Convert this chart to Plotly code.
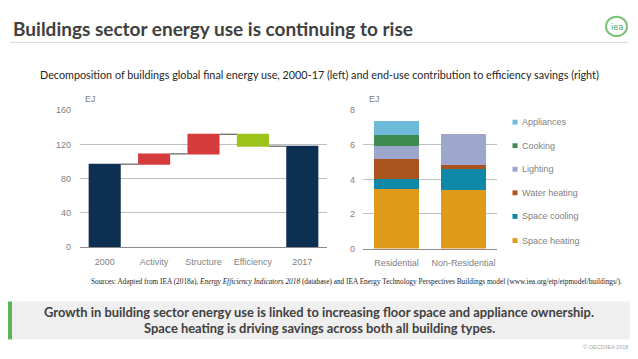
import plotly.graph_objects as go

W, H = 638, 359

def px(x):
    return x / W

def py(y):
    return 1 - y / H

# ---- Data ----
wf_categories = ["2000", "Activity", "Structure", "Efficiency", "2017"]
wf_values = [97, 12, 23, -14, 118]
wf_measures = ["absolute", "relative", "relative", "relative", "total"]
wf_ticks = [0, 40, 80, 120, 160]

bt_categories = ["Residential", "Non-Residential"]
space_heating = [3.42, 3.36]
space_cooling = [0.62, 1.22]
water_heating = [1.12, 0.28]
lighting = [0.78, 1.74]
cooking = [0.62, 0.0]
appliances = [0.80, 0.0]
bt_ticks = [0, 2, 4, 6, 8]

series_names = ["Space heating", "Space cooling", "Water heating", "Lighting", "Cooking", "Appliances"]
series_values = [space_heating, space_cooling, water_heating, lighting, cooking, appliances]
series_colors = ["#E09A1A", "#0E88A6", "#A9531F", "#9DA6CC", "#3F8A50", "#6DBAD9"]

NAVY = "#0D2F52"
RED = "#D63B3B"
GREEN = "#9BC31A"
AXIS_FONT = "Liberation Sans Narrow, Arial Narrow, Liberation Sans, Arial"
TICK_COLOR = "#7F7F7F"
GRID = "#BFBFBF"
TICK_SIZE = 9

fig = go.Figure()

fig.add_trace(go.Waterfall(
    x=wf_categories, y=wf_values, measure=wf_measures,
    base=0,
    increasing=dict(marker=dict(color=RED)),
    decreasing=dict(marker=dict(color=GREEN)),
    totals=dict(marker=dict(color=NAVY)),
    connector=dict(line=dict(color="#404040", width=1), mode="between"),
    width=0.65,
    xaxis="x", yaxis="y", showlegend=False, hoverinfo="skip",
))

for name, vals, col in zip(series_names, series_values, series_colors):
    fig.add_trace(go.Bar(
        x=bt_categories, y=vals, name=name, marker=dict(color=col, line=dict(width=0)),
        xaxis="x2", yaxis="y2", showlegend=False, width=0.66, hoverinfo="skip",
    ))

axis_common = dict(
    tickfont=dict(family=AXIS_FONT, size=TICK_SIZE, color=TICK_COLOR),
    ticks="", zeroline=False,
)

fig.update_layout(
    width=W, height=H,
    margin=dict(l=0, r=0, t=0, b=0),
    paper_bgcolor="white", plot_bgcolor="rgba(0,0,0,0)",
    barmode="stack",
    xaxis=dict(domain=[px(80), px(327)], showgrid=False, ticklabelstandoff=6,
               showline=True, linecolor="#8C8C8C", linewidth=1, **axis_common),
    yaxis=dict(domain=[py(249), py(108.3)], range=[0, 160], tickvals=wf_ticks,
               showgrid=True, gridcolor=GRID, gridwidth=1, showline=False,
               ticklabelstandoff=8, **axis_common),
    xaxis2=dict(domain=[px(363), px(497)], showgrid=False, ticklabelstandoff=6,
                showline=True, linecolor="#8C8C8C", linewidth=1, anchor="y2", **axis_common),
    yaxis2=dict(domain=[py(250.5), py(108.3)], range=[0, 8], tickvals=bt_ticks,
                showgrid=True, gridcolor=GRID, gridwidth=1, showline=False, anchor="x2",
                ticklabelstandoff=7, **axis_common),
    showlegend=False,
)

annotations = []
shapes = []

# EJ labels
for xx in (83, 367):
    annotations.append(dict(x=px(xx), y=py(97), xref="paper", yref="paper", text="EJ",
                            showarrow=False, xanchor="left", yanchor="middle",
                            font=dict(family=AXIS_FONT, size=TICK_SIZE, color=TICK_COLOR)))

# Legend (manual, top = Appliances)
leg_y = [242.3, 217.5, 193.2, 169.0, 144.7, 120.5]
for name, col, yy in zip(series_names, series_colors, leg_y):
    shapes.append(dict(type="rect", xref="paper", yref="paper",
                       x0=px(512.5), x1=px(517.5), y0=py(yy + 2.5), y1=py(yy - 2.5),
                       fillcolor=col, line=dict(width=0)))
    annotations.append(dict(x=px(519.5), y=py(yy), xref="paper", yref="paper", text=name,
                            showarrow=False, xanchor="left", yanchor="middle",
                            font=dict(family=AXIS_FONT, size=TICK_SIZE, color=TICK_COLOR)))

# Title
annotations.append(dict(x=px(11), y=py(24), xref="paper", yref="paper",
                        text="<b>Buildings sector energy use is continuing to rise</b>",
                        showarrow=False, xanchor="left", yanchor="middle",
                        font=dict(family="Lato, Open Sans, sans-serif", size=19, color="#404040")))
shapes.append(dict(type="line", xref="paper", yref="paper", x0=px(10), x1=px(628),
                   y0=py(38.5), y1=py(38.5), line=dict(color="#D9D9D9", width=1)))

# IEA logo
shapes.append(dict(type="circle", xref="paper", yref="paper",
                   x0=px(606), x1=px(627), y0=py(32), y1=py(12),
                   line=dict(color="#7CC17A", width=2), fillcolor="white"))
annotations.append(dict(x=px(617), y=py(23), xref="paper", yref="paper", text="iea",
                        showarrow=False, xanchor="center", yanchor="middle",
                        font=dict(family="DejaVu Sans Condensed, DejaVu Sans", size=9, color="#4E9F4C")))

# Subtitle
annotations.append(dict(x=px(319), y=py(72), xref="paper", yref="paper",
                        text="Decomposition of buildings global final energy use, 2000-17 (left) and end-use contribution to efficiency savings (right)",
                        showarrow=False, xanchor="center", yanchor="middle",
                        font=dict(family="Lato, Open Sans, sans-serif", size=10.8, color="#262626")))

# Sources
annotations.append(dict(x=px(624), y=py(284), xref="paper", yref="paper",
                        text="Sources: Adapted from IEA (2018a), <i>Energy Efficiency Indicators 2018</i> (database) and IEA Energy Technology Perspectives Buildings model (www.iea.org/etp/etpmodel/buildings/).",
                        showarrow=False, xanchor="right", yanchor="middle",
                        font=dict(family="Liberation Serif, Times New Roman, serif", size=7.3, color="#262626")))

# Bottom box
shapes.append(dict(type="rect", xref="paper", yref="paper", x0=px(12), x1=px(630),
                   y0=py(344), y1=py(305), fillcolor="#EFEFEF", line=dict(width=0), layer="below"))
shapes.append(dict(type="rect", xref="paper", yref="paper", x0=px(8), x1=px(12),
                   y0=py(344), y1=py(305), fillcolor="#5DB55B", line=dict(width=0)))
for txt, yy in (("Growth in building sector energy use is linked to increasing floor space and appliance ownership.", 316),
                ("Space heating is driving savings across both all building types.", 332)):
    annotations.append(dict(x=px(319), y=py(yy), xref="paper", yref="paper",
                            text="<b>" + txt + "</b>",
                            showarrow=False, xanchor="center", yanchor="middle",
                            font=dict(family="Lato, Open Sans, sans-serif", size=12.9, color="#404040")))

# Copyright
annotations.append(dict(x=px(630), y=py(352), xref="paper", yref="paper",
                        text="© OECD/IEA 2018", showarrow=False, xanchor="right", yanchor="middle",
                        font=dict(family="Liberation Sans, Arial", size=5.5, color="#A6A6A6")))

fig.update_layout(annotations=annotations, shapes=shapes)

fig.write_html("out.html", config={"displayModeBar": False, "staticPlot": True},
               post_script="document.body.style.margin='0';document.body.style.overflow='hidden';")
